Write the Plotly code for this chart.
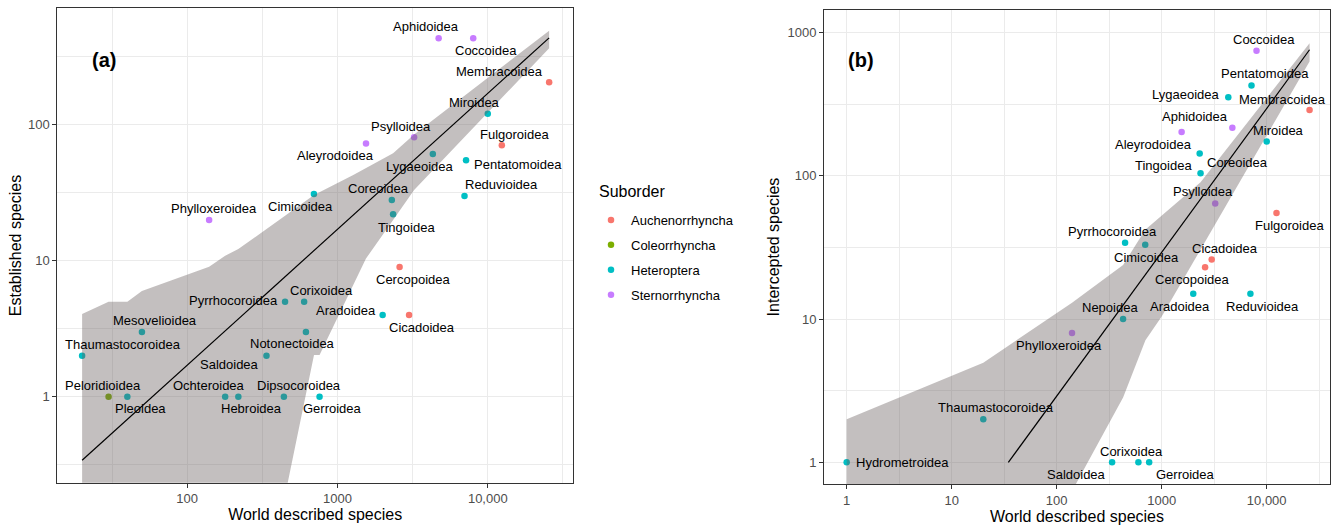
import numpy as np
import plotly.graph_objects as go

# ---------------- data ----------------
SUBORDERS = ["Auchenorrhyncha", "Coleorrhyncha", "Heteroptera", "Sternorrhyncha"]
COLORS = {"Auchenorrhyncha": "#F8766D", "Coleorrhyncha": "#7CAE00",
          "Heteroptera": "#00BFC4", "Sternorrhyncha": "#C77CFF"}

suborder_of = {
    "Membracoidea": "Auchenorrhyncha", "Fulgoroidea": "Auchenorrhyncha",
    "Cercopoidea": "Auchenorrhyncha", "Cicadoidea": "Auchenorrhyncha",
    "Peloridioidea": "Coleorrhyncha",
    "Aphidoidea": "Sternorrhyncha", "Coccoidea": "Sternorrhyncha",
    "Psylloidea": "Sternorrhyncha", "Aleyrodoidea": "Sternorrhyncha",
    "Phylloxeroidea": "Sternorrhyncha",
}  # all other superfamilies: Heteroptera

world_described = {
    "Aphidoidea": 4710, "Coccoidea": 8000, "Membracoidea": 25600, "Miroidea": 10000,
    "Psylloidea": 3235, "Aleyrodoidea": 1548, "Lygaeoidea": 4310, "Pentatomoidea": 7170,
    "Fulgoroidea": 12400, "Reduvioidea": 7000, "Cimicoidea": 697, "Coreoidea": 2300,
    "Tingoidea": 2345, "Phylloxeroidea": 140, "Cercopoidea": 2590, "Pyrrhocoroidea": 448,
    "Corixoidea": 600, "Aradoidea": 1998, "Cicadoidea": 2995, "Mesovelioidea": 50,
    "Notonectoidea": 617, "Saldoidea": 337, "Thaumastocoroidea": 20, "Peloridioidea": 30,
    "Pleoidea": 40, "Ochteroidea": 179, "Hebroidea": 219, "Dipsocoroidea": 440,
    "Gerroidea": 760, "Nepoidea": 429, "Hydrometroidea": 1,
}

# panel (a): established species
taxa_a = ["Aphidoidea", "Coccoidea", "Membracoidea", "Miroidea", "Psylloidea", "Aleyrodoidea",
          "Lygaeoidea", "Pentatomoidea", "Fulgoroidea", "Reduvioidea", "Cimicoidea", "Coreoidea",
          "Tingoidea", "Phylloxeroidea", "Cercopoidea", "Pyrrhocoroidea", "Corixoidea", "Aradoidea",
          "Cicadoidea", "Mesovelioidea", "Notonectoidea", "Saldoidea", "Thaumastocoroidea",
          "Peloridioidea", "Pleoidea", "Ochteroidea", "Hebroidea", "Dipsocoroidea", "Gerroidea"]
established = [434, 434, 206, 121, 81, 73, 61, 55, 71, 30, 31, 28, 22, 20, 9, 5, 5, 4, 4,
               3, 3, 2, 2, 1, 1, 1, 1, 1, 1]

# panel (b): intercepted species
taxa_b = ["Coccoidea", "Pentatomoidea", "Lygaeoidea", "Membracoidea", "Aphidoidea", "Aleyrodoidea",
          "Miroidea", "Coreoidea", "Tingoidea", "Psylloidea", "Fulgoroidea", "Pyrrhocoroidea",
          "Cimicoidea", "Cicadoidea", "Cercopoidea", "Aradoidea", "Reduvioidea", "Nepoidea",
          "Phylloxeroidea", "Thaumastocoroidea", "Hydrometroidea", "Saldoidea", "Corixoidea",
          "Gerroidea"]
intercepted = [745, 425, 353, 287, 216, 202, 173, 143, 104, 64, 55, 34, 33, 26, 23, 15, 15,
               10, 8, 2, 1, 1, 1, 1]

# fitted log-log regression (slope, intercept in log10 units); y_floor: lowest drawn prediction
fit_a = {"slope": 1.0, "intercept": -1.768, "y_floor": None}
fit_b = {"slope": 1.0035, "intercept": -1.545, "y_floor": 1}

# confidence band
band_a_upper_x = [20, 30, 40, 50, 140, 179, 219, 698, 1274, 2345, 3235, 25600]
band_a_upper_y = [4.06, 5.0, 5.0, 6.0, 9.06, 10.9, 12.2, 30.5, 42.9, 61.8, 85, 494]
band_a_lower_x = [20, 440, 698, 760, 1548, 2345, 3235, 25600]
band_a_lower_y = [0.05, 0.17, 2.03, 2.03, 10.4, 20.0, 33.2, 367]

band_b_upper_x = [1, 20, 140, 429, 697, 2345, 25600]
band_b_upper_y = [2.0, 4.96, 13.0, 23.8, 42.0, 90.0, 838]
band_b_lower_x = [1, 20, 140, 429, 700, 1000, 25600]
band_b_lower_y = [0.01, 0.02, 0.63, 2.84, 7.1, 10.4, 625]

# label offsets (pixels) relative to each point: (dx, dy-up)
label_off_a = {
    "Aphidoidea": (-13, 12), "Coccoidea": (13, -12.5), "Membracoidea": (-50, 11),
    "Miroidea": (-13, 11.3), "Psylloidea": (-13, 11.3), "Aleyrodoidea": (-30, -12.3),
    "Lygaeoidea": (-13, -12.3), "Pentatomoidea": (52, -4), "Fulgoroidea": (13, 11),
    "Reduvioidea": (37, 11.3), "Cimicoidea": (-13, -12.7), "Coreoidea": (-13, 11.3),
    "Tingoidea": (13, -12.7), "Phylloxeroidea": (5, 11.3), "Cercopoidea": (13, -12),
    "Pyrrhocoroidea": (-52, 1.3), "Corixoidea": (17, 11.3), "Aradoidea": (-37, 4),
    "Cicadoidea": (13, -12.3), "Mesovelioidea": (13, 11.3), "Notonectoidea": (-13, -12),
    "Saldoidea": (-37, -9), "Thaumastocoroidea": (41, 11.7), "Peloridioidea": (-6, 11.7),
    "Pleoidea": (13, -12), "Ochteroidea": (-16, 11.7), "Hebroidea": (13, -12),
    "Dipsocoroidea": (15, 11.7), "Gerroidea": (13, -12),
}
label_off_b = {
    "Coccoidea": (7, 11.3), "Pentatomoidea": (13, 11.7), "Lygaeoidea": (-42, 2.3),
    "Membracoidea": (-27, 11), "Aphidoidea": (-37.5, 11), "Aleyrodoidea": (-28, -12.3),
    "Miroidea": (12, 11.3), "Coreoidea": (38, -8.7), "Tingoidea": (-37, 8),
    "Psylloidea": (-12.5, 11.7), "Fulgoroidea": (13, -12.3), "Pyrrhocoroidea": (-12.5, 11.3),
    "Cimicoidea": (1.5, -12.3), "Cicadoidea": (13, 11), "Cercopoidea": (-13, -12.7),
    "Aradoidea": (-13, -12.3), "Reduvioidea": (12.5, -12.3), "Nepoidea": (-13, 11.3),
    "Phylloxeroidea": (-13, -12.3), "Thaumastocoroidea": (13, 11.3),
    "Hydrometroidea": (7.5, 0), "Corixoidea": (-7, 11.3), "Saldoidea": (-36, -12),
    "Gerroidea": (36, -12),
}

# ---------------- figure ----------------
FONT = "Liberation Sans, Arial, Helvetica, sans-serif"
W, H = 1336, 525
fig = go.Figure()


def sub(t):
    return suborder_of.get(t, "Heteroptera")


def add_panel(taxa, counts, fit, bux, buy, blx, bly, xa, ya, show_legend):
    # points (under the band, as in the original)
    for s in SUBORDERS:
        idx = [i for i, t in enumerate(taxa) if sub(t) == s]
        fig.add_trace(go.Scatter(
            x=[world_described[taxa[i]] for i in idx], y=[counts[i] for i in idx],
            mode="markers", name=s, legendgroup=s, showlegend=show_legend,
            marker=dict(color=COLORS[s], size=6.5, line=dict(width=0)),
            text=[taxa[i] for i in idx], hoverinfo="text+x+y",
            xaxis=xa, yaxis=ya))
    # confidence band
    fig.add_trace(go.Scatter(
        x=list(bux) + list(blx)[::-1], y=list(buy) + list(bly)[::-1],
        mode="lines", fill="toself", fillcolor="rgba(105,95,95,0.4)",
        line=dict(width=0), hoverinfo="skip", showlegend=False, xaxis=xa, yaxis=ya))
    # fitted line over the data range (optionally only where prediction >= y_floor)
    wx = np.array([world_described[t] for t in taxa], dtype=float)
    lx_min = np.log10(wx.min())
    if fit["y_floor"] is not None:
        lx_min = max(lx_min, (np.log10(fit["y_floor"]) - fit["intercept"]) / fit["slope"])
    lx = np.array([lx_min, np.log10(wx.max())])
    ly = fit["slope"] * lx + fit["intercept"]
    fig.add_trace(go.Scatter(
        x=10 ** lx, y=10 ** ly, mode="lines", line=dict(color="black", width=1.2),
        hoverinfo="skip", showlegend=False, xaxis=xa, yaxis=ya))


add_panel(taxa_a, established, fit_a, band_a_upper_x, band_a_upper_y,
          band_a_lower_x, band_a_lower_y, "x", "y", True)
add_panel(taxa_b, intercepted, fit_b, band_b_upper_x, band_b_upper_y,
          band_b_lower_x, band_b_lower_y, "x2", "y2", False)

annotations = []
for taxa, counts, offs, xr, yr in [(taxa_a, established, label_off_a, "x", "y"),
                                   (taxa_b, intercepted, label_off_b, "x2", "y2")]:
    for t, c in zip(taxa, counts):
        dx, dy = offs[t]
        left = (t == "Hydrometroidea" and xr == "x2")
        annotations.append(dict(
            x=np.log10(world_described[t]), y=np.log10(c), xref=xr, yref=yr,
            text=t, showarrow=False, xshift=dx, yshift=dy,
            xanchor="left" if left else "center", yanchor="middle",
            font=dict(family=FONT, size=13, color="black")))

annotations.append(dict(x=90.3 / W, y=1 - 46.7 / H, xref="paper", yref="paper", text="<b>(a)</b>",
                        showarrow=False, font=dict(family=FONT, size=20, color="black")))
annotations.append(dict(x=861 / W, y=1 - 46.7 / H, xref="paper", yref="paper", text="<b>(b)</b>",
                        showarrow=False, font=dict(family=FONT, size=20, color="black")))
# legend title
annotations.append(dict(x=597 / W, y=1 - 191.5 / H, xref="paper", yref="paper", text="Suborder",
                        xanchor="left", yanchor="middle", showarrow=False,
                        font=dict(family=FONT, size=16, color="black")))


def axis(rng, tickvals, ticktext, minor_vals, domain, anchor, title, standoff):
    return dict(type="log", range=rng, domain=domain, anchor=anchor, automargin=False,
                tickmode="array", tickvals=tickvals, ticktext=ticktext,
                showline=True, mirror=True, linecolor="#333333", linewidth=1,
                ticks="outside", ticklen=4, tickwidth=1, tickcolor="#333333",
                showgrid=True, gridcolor="#EBEBEB", gridwidth=1.1, zeroline=False,
                minor=dict(tickmode="array", tickvals=minor_vals, showgrid=True,
                           gridcolor="#EBEBEB", gridwidth=0.6, ticks=""),
                tickfont=dict(family=FONT, size=13, color="#4D4D4D"),
                title=dict(text=title, standoff=standoff,
                           font=dict(family=FONT, size=16, color="black")))


fig.update_layout(
    width=W, height=H, margin=dict(l=0, r=0, t=0, b=0, autoexpand=False),
    paper_bgcolor="white", plot_bgcolor="white",
    font=dict(family=FONT, color="black"),
    xaxis=axis([1.136, 4.567], [100, 1000, 10000], ["100", "1000", "10,000"],
               [10 ** 1.5, 10 ** 2.5, 10 ** 3.5, 10 ** 4.5],
               [57.3 / W, 573 / W], "y", "World described species", 0),
    yaxis=axis([-0.632, 2.858], [1, 10, 100], ["1", "10", "100"],
               [10 ** -0.5, 10 ** 0.5, 10 ** 1.5, 10 ** 2.5],
               [1 - 482.7 / H, 1 - 8.3 / H], "x", "Established species", 2),
    xaxis2=axis([-0.216, 4.603], [1, 10, 100, 1000, 10000], ["1", "10", "100", "1000", "10,000"],
                [10 ** 0.5, 10 ** 1.5, 10 ** 2.5, 10 ** 3.5, 10 ** 4.5],
                [824 / W, 1330 / W], "y2", "World described species", 0),
    yaxis2=axis([-0.151, 3.156], [1, 10, 100, 1000], ["1", "10", "100", "1000"],
                [10 ** 0.5, 10 ** 1.5, 10 ** 2.5],
                [1 - 484 / H, 1 - 10 / H], "x2", "Intercepted species", 3),
    legend=dict(x=591 / W, y=1 - 205 / H, xanchor="left", yanchor="top",
                font=dict(family=FONT, size=13, color="black"),
                tracegroupgap=5, bgcolor="rgba(0,0,0,0)"),
    annotations=annotations,
    showlegend=True,
)

fig.write_html("out.html", config={"displayModeBar": False},
               post_script="document.body.style.margin='0';document.body.style.overflow='hidden';")
